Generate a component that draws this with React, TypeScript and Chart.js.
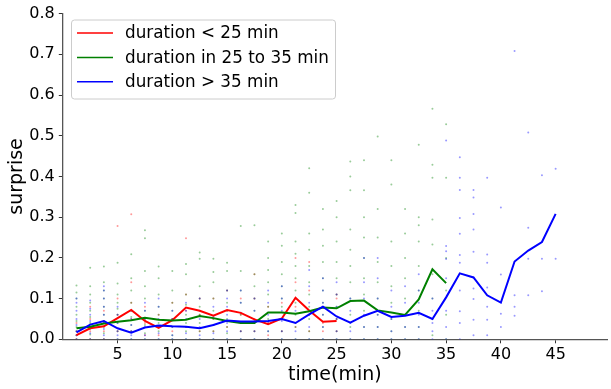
import React, { useEffect, useRef } from "react";
import { Chart, registerables } from "chart.js";

Chart.register(...registerables);

const times = [1.25, 2.5, 3.75, 5, 6.25, 7.5, 8.75, 10, 11.25, 12.5, 13.75, 15, 16.25, 17.5, 18.75, 20, 21.25, 22.5, 23.75, 25, 26.25, 27.5, 28.75, 30, 31.25, 32.5, 33.75, 35, 36.25, 37.5, 38.75, 40, 41.25, 42.5, 43.75, 45];

const redLine = [0.010, 0.027, 0.032, 0.052, 0.072, 0.045, 0.028, 0.047, 0.078, 0.070, 0.058, 0.072, 0.065, 0.049, 0.037, 0.051, 0.102, 0.071, 0.043, 0.045];
const greenLine = [0.027, 0.031, 0.039, 0.043, 0.047, 0.053, 0.048, 0.046, 0.048, 0.057, 0.052, 0.045, 0.040, 0.040, 0.066, 0.066, 0.063, 0.069, 0.078, 0.076, 0.094, 0.095, 0.071, 0.066, 0.060, 0.098, 0.172, 0.138];
const blueLine = [0.017, 0.036, 0.045, 0.027, 0.016, 0.029, 0.034, 0.032, 0.031, 0.027, 0.035, 0.046, 0.044, 0.044, 0.045, 0.050, 0.040, 0.061, 0.080, 0.056, 0.041, 0.058, 0.070, 0.055, 0.058, 0.065, 0.050, 0.103, 0.162, 0.152, 0.108, 0.090, 0.191, 0.218, 0.239, 0.308];

const redDots = [
  [0, 0.01, 0.02, 0.04],
  [0, 0.02, 0.05, 0.08],
  [0, 0.02, 0.04, 0.07],
  [0.02, 0.06, 0.1, 0.278],
  [0.02, 0.05, 0.09, 0.14, 0.307],
  [0.01, 0.04, 0.08],
  [0.01, 0.03, 0.06],
  [0.02, 0.05, 0.09],
  [0.03, 0.07, 0.11, 0.248],
  [0.02, 0.06, 0.1],
  [0.02, 0.05, 0.1],
  [0.03, 0.07, 0.12],
  [0.02, 0.06, 0.1],
  [0.02, 0.05, 0.1, 0.16],
  [0.01, 0.04, 0.08],
  [0.02, 0.05, 0.09],
  [0.03, 0.08, 0.14, 0.2],
  [0.02, 0.06, 0.12, 0.19],
  [0.02, 0.04, 0.08],
  [0.02, 0.05, 0.1, 0.11],
];

const greenDots = [
  [0, 0.01, 0.02, 0.03, 0.045, 0.06, 0.08, 0.1, 0.115, 0.132],
  [0, 0.012, 0.025, 0.04, 0.055, 0.07, 0.09, 0.11, 0.13, 0.176],
  [0, 0.015, 0.03, 0.045, 0.06, 0.08, 0.1, 0.12, 0.14, 0.179],
  [0, 0.02, 0.04, 0.06, 0.075, 0.09, 0.11, 0.137, 0.188],
  [0, 0.02, 0.035, 0.055, 0.07, 0.09, 0.12, 0.15, 0.209],
  [0, 0.015, 0.035, 0.05, 0.07, 0.1, 0.13, 0.168, 0.248, 0.268],
  [0, 0.02, 0.04, 0.06, 0.08, 0.11, 0.15, 0.179],
  [0, 0.01, 0.03, 0.05, 0.07, 0.09, 0.12, 0.168],
  [0, 0.02, 0.04, 0.06, 0.085, 0.11, 0.16, 0.185],
  [0, 0.02, 0.04, 0.06, 0.08, 0.1, 0.13, 0.198, 0.213],
  [0, 0.02, 0.035, 0.05, 0.07, 0.1, 0.14, 0.165, 0.198],
  [0, 0.015, 0.03, 0.05, 0.07, 0.09, 0.12, 0.168, 0.188],
  [0, 0.02, 0.04, 0.06, 0.09, 0.12, 0.168, 0.278],
  [0, 0.02, 0.04, 0.07, 0.1, 0.13, 0.16, 0.28],
  [0, 0.02, 0.05, 0.08, 0.11, 0.14, 0.17, 0.2, 0.24],
  [0, 0.02, 0.05, 0.08, 0.1, 0.13, 0.16, 0.19, 0.23, 0.26],
  [0, 0.03, 0.06, 0.09, 0.12, 0.15, 0.18, 0.21, 0.24, 0.31, 0.33],
  [0, 0.02, 0.05, 0.08, 0.11, 0.14, 0.18, 0.22, 0.26, 0.36, 0.42],
  [0, 0.03, 0.06, 0.09, 0.12, 0.15, 0.19, 0.23, 0.27, 0.32],
  [0, 0.02, 0.05, 0.08, 0.11, 0.15, 0.19, 0.24, 0.3, 0.34],
  [0, 0.03, 0.06, 0.1, 0.14, 0.18, 0.22, 0.27, 0.366, 0.4, 0.437],
  [0, 0.03, 0.07, 0.11, 0.15, 0.2, 0.25, 0.3, 0.366, 0.44],
  [0, 0.03, 0.06, 0.1, 0.14, 0.19, 0.25, 0.32, 0.498],
  [0, 0.02, 0.05, 0.09, 0.13, 0.18, 0.24, 0.38, 0.44],
  [0, 0.03, 0.06, 0.1, 0.15, 0.2, 0.26, 0.32],
  [0, 0.03, 0.07, 0.12, 0.18, 0.24, 0.28, 0.3, 0.478],
  [0.01, 0.05, 0.1, 0.16, 0.233, 0.294, 0.397, 0.429, 0.566],
  [0, 0.06, 0.12, 0.2, 0.397, 0.528],
];

const blueDots = [
  [0, 0.01, 0.02, 0.035, 0.05, 0.07, 0.09, 0.1],
  [0, 0.015, 0.03, 0.045, 0.06, 0.075, 0.095],
  [0, 0.01, 0.025, 0.04, 0.06, 0.08, 0.1, 0.12, 0.13],
  [0, 0.01, 0.02, 0.04, 0.06, 0.08],
  [0, 0.01, 0.02, 0.035, 0.05, 0.07],
  [0, 0.01, 0.03, 0.05, 0.07, 0.09],
  [0, 0.015, 0.03, 0.05, 0.08, 0.1],
  [0, 0.01, 0.03, 0.05, 0.07],
  [0, 0.015, 0.03, 0.05, 0.07, 0.09],
  [0, 0.01, 0.03, 0.05, 0.07, 0.1],
  [0, 0.015, 0.035, 0.055, 0.08],
  [0, 0.02, 0.04, 0.06, 0.08, 0.1, 0.12],
  [0, 0.02, 0.04, 0.065, 0.09, 0.12],
  [0, 0.02, 0.045, 0.07, 0.1],
  [0, 0.02, 0.04, 0.06, 0.09, 0.12],
  [0, 0.02, 0.045, 0.07, 0.1, 0.13],
  [0, 0.02, 0.04, 0.07, 0.1],
  [0, 0.03, 0.06, 0.09, 0.13, 0.17],
  [0, 0.03, 0.06, 0.09, 0.12, 0.15],
  [0, 0.02, 0.05, 0.08, 0.11, 0.14],
  [0, 0.02, 0.04, 0.07, 0.1],
  [0, 0.03, 0.06, 0.1, 0.14, 0.2],
  [0, 0.03, 0.06, 0.1, 0.15, 0.2],
  [0, 0.02, 0.05, 0.08, 0.12],
  [0, 0.03, 0.06, 0.09, 0.13],
  [0, 0.03, 0.06, 0.09, 0.12, 0.16],
  [0, 0.02, 0.04, 0.07, 0.1],
  [0, 0.03, 0.07, 0.15, 0.197, 0.216, 0.229, 0.488],
  [0, 0.04, 0.069, 0.12, 0.188, 0.207, 0.259, 0.298, 0.367, 0.397, 0.447],
  [0.01, 0.048, 0.099, 0.125, 0.152, 0.215, 0.27, 0.308, 0.348, 0.367],
  [0.01, 0.048, 0.08, 0.127, 0.188, 0.208, 0.397],
  [0.03, 0.063, 0.159, 0.324],
  [0.058, 0.08, 0.108, 0.708],
  [0.108, 0.198, 0.274, 0.508],
  [0.118, 0.198, 0.403],
  [0.198, 0.419],
];

const xTicks = [5, 10, 15, 20, 25, 30, 35, 40, 45];
const legendLabels = ["duration < 25 min", "duration in 25 to 35 min", "duration > 35 min"];
const legendColors = ["#ff0000", "#008000", "#0000ff"];

const FONT = "'DejaVu Sans', sans-serif";

function linePoints(vals: number[]) {
  return vals.map((v, i) => ({ x: times[i], y: v }));
}
function dotPoints(cols: number[][]) {
  const out: { x: number; y: number }[] = [];
  cols.forEach((col, i) => col.forEach((v) => out.push({ x: times[i], y: v })));
  return out;
}

const legendPlugin = {
  id: "mplLegend",
  afterDraw(chart: any) {
    const ctx = chart.ctx;
    ctx.save();
    const x0 = 71.5, y0 = 20, w = 264, h = 79, r = 3;
    ctx.beginPath();
    ctx.moveTo(x0 + r, y0);
    ctx.lineTo(x0 + w - r, y0);
    ctx.quadraticCurveTo(x0 + w, y0, x0 + w, y0 + r);
    ctx.lineTo(x0 + w, y0 + h - r);
    ctx.quadraticCurveTo(x0 + w, y0 + h, x0 + w - r, y0 + h);
    ctx.lineTo(x0 + r, y0 + h);
    ctx.quadraticCurveTo(x0, y0 + h, x0, y0 + h - r);
    ctx.lineTo(x0, y0 + r);
    ctx.quadraticCurveTo(x0, y0, x0 + r, y0);
    ctx.closePath();
    ctx.fillStyle = "rgba(255,255,255,0.8)";
    ctx.fill();
    ctx.strokeStyle = "#cccccc";
    ctx.lineWidth = 1;
    ctx.stroke();
    ctx.font = `16.8px ${FONT}`;
    ctx.textBaseline = "middle";
    ctx.textAlign = "left";
    legendLabels.forEach((lab, i) => {
      const y = 33 + i * 24.4;
      ctx.strokeStyle = legendColors[i];
      ctx.lineWidth = 1.5;
      ctx.beginPath();
      ctx.moveTo(77, y);
      ctx.lineTo(113, y);
      ctx.stroke();
      ctx.fillStyle = "#000";
      ctx.fillText(lab, 125, y + 1);
    });
    ctx.restore();
  },
};

export default function App() {
  const ref = useRef<HTMLCanvasElement>(null);
  useEffect(() => {
    if (!ref.current) return;
    const chart = new Chart(ref.current, {
      type: "line",
      data: {
        datasets: [
          { type: "line", data: linePoints(blueLine), borderColor: "#0000ff", borderWidth: 2, pointRadius: 0, fill: false, tension: 0 },
          { type: "line", data: linePoints(greenLine), borderColor: "#008000", borderWidth: 2, pointRadius: 0, fill: false, tension: 0 },
          { type: "line", data: linePoints(redLine), borderColor: "#ff0000", borderWidth: 2, pointRadius: 0, fill: false, tension: 0 },
          { type: "scatter", data: dotPoints(blueDots), backgroundColor: "rgba(0,0,255,0.4)", borderWidth: 0, pointRadius: 1 },
          { type: "scatter", data: dotPoints(greenDots), backgroundColor: "rgba(0,128,0,0.4)", borderWidth: 0, pointRadius: 1 },
          { type: "scatter", data: dotPoints(redDots), backgroundColor: "rgba(255,0,0,0.4)", borderWidth: 0, pointRadius: 1 },
        ] as any,
      },
      options: {
        responsive: false,
        animation: false,
        devicePixelRatio: 1,
        layout: { padding: { top: 11.3, right: 0, left: 0, bottom: 0 } },
        plugins: { legend: { display: false }, tooltip: { enabled: false } },
        scales: {
          x: {
            type: "linear",
            min: 0,
            max: 49.69,
            afterBuildTicks: (axis: any) => {
              axis.ticks = xTicks.map((v) => ({ value: v }));
            },
            afterFit: (axis: any) => {
              axis.height = 49.7;
            },
            ticks: { font: { family: FONT, size: 16 }, color: "#000", padding: 2, maxRotation: 0 },
            grid: { drawOnChartArea: false, drawTicks: true, tickLength: 4, tickColor: "#333", tickWidth: 1 },
            border: { color: "#555", width: 1.3 },
            title: { display: true, text: "time(min)", font: { family: FONT, size: 19 }, color: "#000", padding: { top: 0, bottom: 3 } },
          },
          y: {
            type: "linear",
            min: 0,
            max: 0.8,
            afterFit: (axis: any) => {
              axis.width = 62.8;
            },
            ticks: { stepSize: 0.1, font: { family: FONT, size: 16 }, color: "#000", padding: 4, callback: (v: any) => Number(v).toFixed(1) },
            grid: { drawOnChartArea: false, drawTicks: true, tickLength: 4, tickColor: "#333", tickWidth: 1 },
            border: { color: "#555", width: 1.3 },
            title: { display: true, text: "surprise", font: { family: FONT, size: 19 }, color: "#000", padding: { top: 6, bottom: 0 } },
          },
        },
      },
      plugins: [legendPlugin],
    });
    return () => chart.destroy();
  }, []);
  return (
    <div style={{ position: "absolute", left: 0, top: 0, width: 611, height: 389, background: "#fff" }}>
      <canvas ref={ref} width={611} height={389} />
    </div>
  );
}
